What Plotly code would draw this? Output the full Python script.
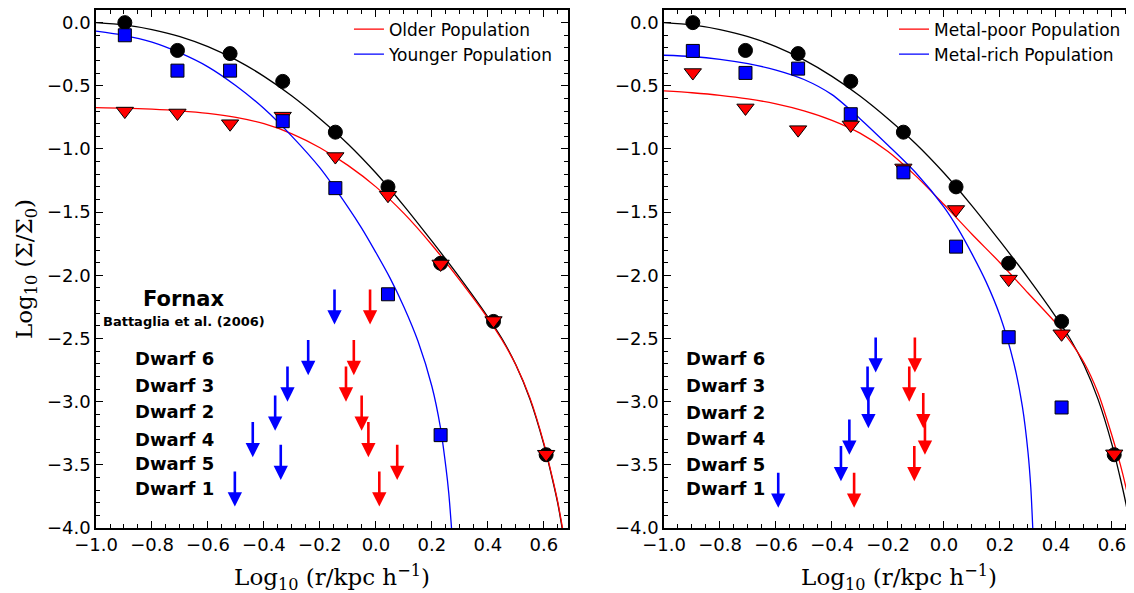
import plotly.graph_objects as go

# ---------------- data ----------------
log_r = [-0.897, -0.709, -0.521, -0.333, -0.145, 0.043, 0.231, 0.420, 0.608]

all_stars = [0.0, -0.22, -0.245, -0.465, -0.867, -1.30, -1.905, -2.365, -3.42]

older = [-0.70, -0.715, -0.80, -0.74, -1.06, -1.366, -1.91, -2.358, -3.416]
younger = [-0.10, -0.38, -0.38, -0.78, -1.31, -2.15, -3.265]

metal_poor = [-0.395, -0.675, -0.847, -0.81, -1.15, -1.479, -2.03, -2.463, -3.413]
metal_rich = [-0.224, -0.398, -0.364, -0.725, -1.185, -1.773, -2.49, -3.046]

# fitted curves
curve_x_all = [-1.0, -0.9, -0.8, -0.7, -0.6, -0.5, -0.4, -0.3, -0.2, -0.1, 0.0, 0.1, 0.2,
               0.3, 0.4, 0.45, 0.5, 0.55, 0.6, 0.63, 0.65, 0.665]
curve_all = [0.0, -0.018, -0.055, -0.11, -0.19, -0.295, -0.425, -0.58, -0.76, -0.96, -1.19,
             -1.45, -1.73, -2.02, -2.33, -2.50, -2.71, -2.98, -3.34, -3.61, -3.81, -4.0]

curve_x_old = [-1.0, -0.9, -0.8, -0.7, -0.6, -0.5, -0.4, -0.3, -0.2, -0.1, 0.0, 0.1, 0.2,
               0.3, 0.4, 0.45, 0.5, 0.55, 0.6, 0.63, 0.65, 0.668]
curve_older = [-0.673, -0.677, -0.685, -0.698, -0.718, -0.75, -0.80, -0.88, -0.99, -1.13,
               -1.30, -1.51, -1.76, -2.04, -2.34, -2.51, -2.71, -2.97, -3.33, -3.60, -3.80,
               -4.02]

curve_x_young = [-1.0, -0.9, -0.8, -0.7, -0.6, -0.5, -0.4, -0.3, -0.2, -0.1, -0.05, 0.0,
                 0.05, 0.1, 0.15, 0.2, 0.23, 0.25, 0.26, 0.27]
curve_young = [-0.067, -0.10, -0.155, -0.24, -0.35, -0.50, -0.68, -0.90, -1.15, -1.46, -1.63,
               -1.82, -2.02, -2.25, -2.52, -2.88, -3.2, -3.52, -3.72, -4.0]

curve_x_poor = [-1.0, -0.9, -0.8, -0.7, -0.6, -0.5, -0.4, -0.3, -0.2, -0.1, 0.0, 0.1, 0.2,
                0.3, 0.4, 0.45, 0.5, 0.55, 0.6, 0.63, 0.65, 0.67, 0.68]
curve_poor = [-0.54, -0.555, -0.575, -0.603, -0.643, -0.698, -0.773, -0.875, -1.02, -1.215,
              -1.44, -1.675, -1.90, -2.14, -2.38, -2.52, -2.69, -2.93, -3.27, -3.50, -3.68,
              -3.89, -4.01]

curve_x_rich = [-1.0, -0.9, -0.8, -0.7, -0.6, -0.5, -0.4, -0.3, -0.2, -0.1, 0.0, 0.05, 0.1,
                0.15, 0.2, 0.25, 0.28, 0.3, 0.31, 0.317]
curve_rich = [-0.258, -0.268, -0.29, -0.325, -0.375, -0.45, -0.57, -0.76, -0.97, -1.19, -1.46,
              -1.63, -1.83, -2.05, -2.32, -2.70, -3.04, -3.40, -3.68, -4.0]

# upper-limit arrows (top of arrow, x positions)
arrow_len = 0.29
left_labels = ["Dwarf 6", "Dwarf 3", "Dwarf 2", "Dwarf 4", "Dwarf 5", "Dwarf 1"]
left_label_y = [-2.655, -2.874, -3.080, -3.301, -3.487, -3.691]
left_arrow_top = [-2.10, -2.50, -2.71, -2.94, -3.15, -3.33, -3.54]  # Fornax + dwarfs
left_young_x = [-0.148, -0.242, -0.316, -0.36, -0.44, -0.34, -0.504]
left_old_x = [-0.021, -0.079, -0.107, -0.051, -0.027, 0.076, 0.012]

right_labels = ["Dwarf 6", "Dwarf 3", "Dwarf 2", "Dwarf 4", "Dwarf 5", "Dwarf 1"]
right_label_y = [-2.655, -2.876, -3.085, -3.295, -3.500, -3.691]
right_arrow_top = [-2.48, -2.71, -2.92, -3.13, -3.34, -3.55]
right_rich_x = [-0.244, -0.273, -0.27, -0.338, -0.368, -0.592]
right_poor_x = [-0.104, -0.124, -0.074, -0.068, -0.106, -0.321]

RED = "#ff0000"
BLUE = "#0000ff"

fig = go.Figure()


def add_curve(x, y, color, name, xa, ya, legend, show):
    fig.add_trace(go.Scatter(x=x, y=y, mode="lines", name=name,
                             line=dict(color=color, width=1.3, shape="spline", smoothing=0.8),
                             xaxis=xa, yaxis=ya, legend=legend, showlegend=show))


def add_points(x, y, color, symbol, size, xa, ya):
    fig.add_trace(go.Scatter(x=x, y=y, mode="markers",
                             marker=dict(color=color, symbol=symbol, size=size,
                                         line=dict(color="black", width=1)),
                             xaxis=xa, yaxis=ya, showlegend=False))


# left panel
add_curve(curve_x_all, curve_all, "black", "all", "x", "y", "legend", False)
add_curve(curve_x_old, curve_older, RED, "Older Population", "x", "y", "legend", True)
add_curve(curve_x_young, curve_young, BLUE, "Younger Population", "x", "y", "legend", True)
add_points(log_r, all_stars, "black", "circle", 14, "x", "y")
add_points(log_r, older, RED, "triangle-down", 15, "x", "y")
add_points(log_r[:len(younger)], younger, BLUE, "square", 13, "x", "y")

# right panel
add_curve(curve_x_all, curve_all, "black", "all", "x2", "y2", "legend2", False)
add_curve(curve_x_poor, curve_poor, RED, "Metal-poor Population", "x2", "y2", "legend2", True)
add_curve(curve_x_rich, curve_rich, BLUE, "Metal-rich Population", "x2", "y2", "legend2", True)
add_points(log_r, all_stars, "black", "circle", 14, "x2", "y2")
add_points(log_r, metal_poor, RED, "triangle-down", 15, "x2", "y2")
add_points(log_r[:len(metal_rich)], metal_rich, BLUE, "square", 13, "x2", "y2")

annotations = []


def arrow(x, top, color, xr, yr):
    annotations.append(dict(x=x, y=top - arrow_len, ax=x, ay=top, xref=xr, yref=yr,
                            axref=xr, ayref=yr, text="", showarrow=True, arrowhead=2,
                            arrowsize=1.1, arrowwidth=2.6, arrowcolor=color, standoff=0,
                            startstandoff=0))


for xv, t in zip(left_young_x, left_arrow_top):
    arrow(xv, t, BLUE, "x", "y")
for xv, t in zip(left_old_x, left_arrow_top):
    arrow(xv, t, RED, "x", "y")
for xv, t in zip(right_rich_x, right_arrow_top):
    arrow(xv, t, BLUE, "x2", "y2")
for xv, t in zip(right_poor_x, right_arrow_top):
    arrow(xv, t, RED, "x2", "y2")

TXT = dict(family="DejaVu Sans", color="black")
annotations.append(dict(x=-0.686, y=-2.19, xref="x", yref="y", text="<b>Fornax</b>",
                        showarrow=False, font=dict(size=21, **TXT)))
annotations.append(dict(x=-0.686, y=-2.366, xref="x", yref="y",
                        text="<b>Battaglia et al. (2006)</b>", showarrow=False,
                        font=dict(size=13, **TXT)))
for lab, yv in zip(left_labels, left_label_y):
    annotations.append(dict(x=-0.718, y=yv, xref="x", yref="y", text="<b>%s</b>" % lab,
                            showarrow=False, font=dict(size=18, **TXT)))
for lab, yv in zip(right_labels, right_label_y):
    annotations.append(dict(x=-0.780, y=yv, xref="x2", yref="y2", text="<b>%s</b>" % lab,
                            showarrow=False, font=dict(size=18, **TXT)))

TICKFONT = dict(family="DejaVu Sans", size=18, color="black")
TITLEFONT = dict(family="DejaVu Serif", size=23, color="black")


def xaxis(domain, rng, anchor):
    return dict(domain=domain, range=rng, anchor=anchor, showgrid=False, zeroline=False,
                showline=True, linecolor="black", linewidth=1.5, mirror="allticks",
                ticks="inside", ticklen=7, tickwidth=1, tickcolor="black",
                tick0=0, dtick=0.2, tickformat=".1f", tickfont=TICKFONT,
                minor=dict(ticks="inside", ticklen=4, tickcolor="black", dtick=0.05, tick0=0),
                title=dict(text="Log<sub>10</sub> (r/kpc h<sup>−1</sup>)", font=TITLEFONT,
                           standoff=15))


def yaxis(anchor, title):
    d = dict(domain=[0, 1], range=[-4.0, 0.1], anchor=anchor, showgrid=False, zeroline=False,
             showline=True, linecolor="black", linewidth=1.5, mirror="allticks",
             ticks="inside", ticklen=7, tickwidth=1, tickcolor="black",
             tick0=0, dtick=0.5, tickformat=".1f", tickfont=TICKFONT,
             minor=dict(ticks="inside", ticklen=4, tickcolor="black", dtick=0.1, tick0=0))
    if title:
        d["title"] = dict(text="Log<sub>10</sub> (Σ/Σ<sub>0</sub>)", font=TITLEFONT, standoff=8)
    return d


LEGFONT = dict(family="DejaVu Sans", size=17, color="black")
fig.update_layout(
    width=1134, height=593,
    margin=dict(l=88, r=8, t=0, b=73),
    paper_bgcolor="white", plot_bgcolor="white",
    xaxis=xaxis([0, 0.4547], [-1.0, 0.686], "y"),
    yaxis=yaxis("x", True),
    xaxis2=xaxis([0.5472, 1.0], [-1.0, 0.6786], "y2"),
    yaxis2=yaxis("x2", False),
    legend=dict(x=0.2437, y=0.997, xanchor="left", yanchor="top", font=LEGFONT,
                bgcolor="rgba(0,0,0,0)", tracegroupgap=0),
    legend2=dict(x=0.7688, y=0.997, xanchor="left", yanchor="top", font=LEGFONT,
                 bgcolor="rgba(0,0,0,0)", tracegroupgap=0),
    annotations=annotations,
)

fig.write_html("out.html")
